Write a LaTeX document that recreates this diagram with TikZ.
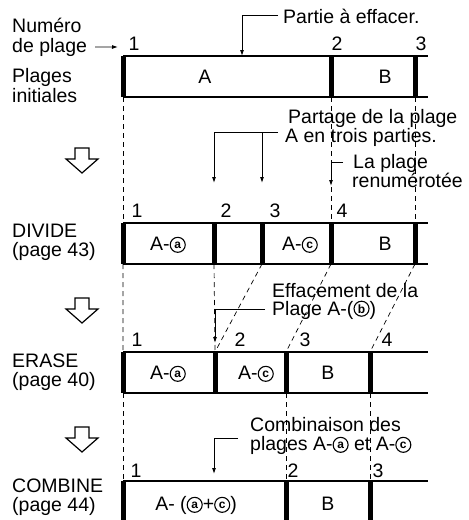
\documentclass[tikz,border=0pt]{standalone}
\usepackage{fontspec}
\setmainfont{Liberation Sans}
\usetikzlibrary{arrows.meta}

% circled letter
\newcommand{\enc}[1]{\tikz[baseline={([yshift=-2pt]x.base)}]\node[draw, circle, line width=1.1pt, minimum size=15pt, inner sep=0pt, font=\fontsize{12}{12}\selectfont\bfseries] (x) {#1};}

\tikzset{
  txt/.style={anchor=base west, inner sep=0pt, font=\fontsize{19.5}{20}\selectfont},
  lab/.style={anchor=base, inner sep=0pt, font=\fontsize{19.5}{20}\selectfont},
  edge/.style={line width=1.6pt},
  sep/.style={line width=5pt},
  guide/.style={line width=0.7pt, dash pattern=on 5pt off 4pt},
  lead/.style={line width=0.9pt, -{Latex[length=6pt,width=4pt]}},
  hollowdown/.pic={\draw[line width=1.2pt] (-7,0) -- (7,0) -- (7,11) -- (16,11) -- (0,25) -- (-16,11) -- (-7,11) -- cycle;}
}

\begin{document}
\begin{tikzpicture}[x=1pt,y=-1pt]
\useasboundingbox (0,0) rectangle (469,520);

% Plages initiales
\draw[edge] (123,56) -- (428,56) (123,97) -- (428,97);
\foreach \x [count=\i] in {123,331,415} {
  \coordinate (pt\i) at (\x,56);
  \coordinate (pb\i) at (\x,97);
  \draw[sep] (pt\i) -- (pb\i);
}
\node[lab] (pA) at (205,83) {A};
\node[lab] (pB) at (385,83) {B};
\node[lab] (pn1) at (134,50) {1};
\node[lab] (pn2) at (337,50) {2};
\node[lab] (pn3) at (421,50) {3};

% DIVIDE
\draw[edge] (123,223) -- (428,223) (123,264) -- (428,264);
\foreach \x [count=\i] in {123,214,262,331,415} {
  \coordinate (dt\i) at (\x,223);
  \coordinate (db\i) at (\x,264);
  \draw[sep] (dt\i) -- (db\i);
}
\node[lab] (dA) at (168,250) {A-\enc{a}};
\node[lab] (dC) at (300,250) {A-\enc{c}};
\node[lab] (dB) at (385,250) {B};
\node[lab] (dn1) at (137,217) {1};
\node[lab] (dn2) at (226,217) {2};
\node[lab] (dn3) at (275,217) {3};
\node[lab] (dn4) at (342,217) {4};

% ERASE
\draw[edge] (123,352) -- (428,352) (123,393) -- (428,393);
\foreach \x [count=\i] in {123,215,286,370} {
  \coordinate (et\i) at (\x,352);
  \coordinate (eb\i) at (\x,393);
  \draw[sep] (et\i) -- (eb\i);
}
\node[lab] (eA) at (168,379) {A-\enc{a}};
\node[lab] (eC) at (256,379) {A-\enc{c}};
\node[lab] (eB) at (328,379) {B};
\node[lab] (en1) at (137,346) {1};
\node[lab] (en2) at (240,346) {2};
\node[lab] (en3) at (305,346) {3};
\node[lab] (en4) at (387,346) {4};

% COMBINE
\draw[edge] (123,481) -- (428,481);
\foreach \x [count=\i] in {123,286,370} {
  \coordinate (ct\i) at (\x,481);
  \coordinate (cb\i) at (\x,522);
  \draw[sep] (ct\i) -- (cb\i);
}
\node[lab] (cA) at (196,510) {A- (\enc{a}+\enc{c})};
\node[lab] (cB) at (328,510) {B};
\node[lab] (cn1) at (136,477) {1};
\node[lab] (cn2) at (293,477) {2};
\node[lab] (cn3) at (378,477) {3};

% left column
\node[txt] (numero) at (12,32) {Numéro};
\node[txt] (deplage) at (12,52) {de plage};
\node[txt] (plages) at (12,82) {Plages};
\node[txt] (initiales) at (12,102) {initiales};
\node[txt] (divide) at (12,237) {DIVIDE};
\node[txt] (divpage) at (12,256) {(page 43)};
\node[txt] (erase) at (12,367) {ERASE};
\node[txt] (erapage) at (12,386) {(page 40)};
\node[txt] (combine) at (12,492) {COMBINE};
\node[txt] (compage) at (12,511) {(page 44)};

\pic at (82,148) {hollowdown};
\pic at (82,298) {hollowdown};
\pic at (82,427) {hollowdown};

% dashed guides
\draw[guide] (pb1) -- (dt1) (pb2) -- (dt4) (pb3) -- (dt5);
\draw[guide] (db1) -- (et1) (db2) -- (et2) (db3) -- (et2) (db4) -- (et3) (db5) -- (et4);
\draw[guide] (eb1) -- (ct1) (eb3) -- (ct2) (eb4) -- (ct3);

% notes
\node[txt] (partie) at (283,23) {Partie à effacer.};
\node[txt] (partage1) at (288,123) {Partage de la plage};
\node[txt] (partage2) at (285,142) {A en trois parties.};
\node[txt] (laplage) at (353,168) {La plage};
\node[txt] (renum) at (352,187) {renumérotée};
\node[txt] (eff1) at (272,297) {Effacement de la};
\node[txt] (eff2) at (272,315) {Plage A-(\enc{b})};
\node[txt] (comb1) at (250,431) {Combinaison des};
\node[txt] (comb2) at (250,450) {plages A-\enc{a} et A-\enc{c}};

\coordinate (numtip) at (118,47);
\coordinate (cut) at (242,56);
\coordinate (s2) at (214,183);
\coordinate (s3) at (262,183);
\coordinate (r4) at (331,186);
\coordinate (e2) at (215,343);
\coordinate (c1) at (214,474);

\draw[lead] ([xshift=8pt]deplage.east) -- (numtip);
\draw[lead] ([xshift=-5pt]partie.west) -| (cut);
\draw[lead] ([xshift=-7pt,yshift=5pt]partage2.west) -| (s2);
\draw[lead] (s3 |- 0,132) -- (s3);
\draw[lead] ([xshift=-10pt,yshift=1pt]laplage.west) -| (r4);
\draw[lead] ([xshift=-7pt]eff2.west) -| (e2);
\draw[lead] ([xshift=-12pt,yshift=7pt]comb2.west) -| (c1);

\end{tikzpicture}
\end{document}
